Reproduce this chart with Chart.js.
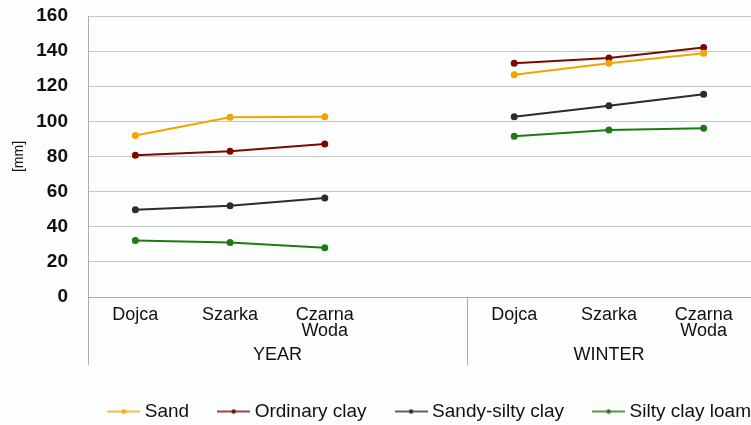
<!DOCTYPE html>
<html>
<head>
<meta charset="utf-8">
<script src="https://cdn.jsdelivr.net/npm/chart.js@4"></script>
<style>
  html, body { margin: 0; padding: 0; background: #fcfdfd; }
  #wrap { width: 751px; height: 425px; }
</style>
</head>
<body>
<div id="wrap"><canvas id="myChart" width="751" height="425"></canvas></div>
<script>
// Categories (index 3 is the empty slot that separates the two groups)
var categories = ['Dojca', 'Szarka', ['Czarna', 'Woda'], '', 'Dojca', 'Szarka', ['Czarna', 'Woda']];
var groupLabels = ['YEAR', 'WINTER'];
var groupSizes = [4, 3];
var yTicks = [0, 20, 40, 60, 80, 100, 120, 140, 160];

// Series values [mm]
var sand = [91.9, 102.3, 102.7, null, 126.6, 133.1, 138.8];
var ordinaryClay = [80.7, 83.0, 87.1, null, 133.1, 136.1, 142.0];
var sandySiltyClay = [49.7, 52.0, 56.4, null, 102.7, 108.9, 115.4];
var siltyClayLoam = [32.1, 31.1, 28.1, null, 91.5, 95.1, 96.1];

var FONT = "'Liberation Sans', Arial, sans-serif";
var GRID = '#c3c7cb';
var AXIS = '#a9adb1';

// little "line with a dot" marker for the legend
function legendMarker(color) {
  var c = document.createElement('canvas');
  c.width = 33; c.height = 8;
  var g = c.getContext('2d');
  g.strokeStyle = color; g.lineWidth = 1.6;
  g.beginPath(); g.moveTo(0, 4); g.lineTo(33, 4); g.stroke();
  g.fillStyle = color;
  g.beginPath(); g.arc(16.5, 4, 2.2, 0, Math.PI * 2); g.fill();
  return c;
}

function series(label, data, color) {
  return {
    label: label,
    data: data,
    borderColor: color,
    backgroundColor: color,
    borderWidth: 2,
    pointRadius: 2.5,
    pointHoverRadius: 2.5,
    spanGaps: false,
    tension: 0,
    marker: legendMarker(color)
  };
}

// background, legend shift, group labels / separators under the category axis
var groupPlugin = {
  id: 'groups',
  beforeDraw: function (chart) {
    var c = chart.ctx;
    c.save();
    c.fillStyle = '#fcfdfd';
    c.fillRect(0, 0, chart.width, chart.height);
    c.restore();
  },
  afterLayout: function (chart) {
    // push the legend row flush to the right edge like the original
    chart.legend.right += chart.legend.options.labels.padding;
  },
  afterDraw: function (chart) {
    var x = chart.scales.x, c = chart.ctx;
    var step = x.getPixelForValue(1) - x.getPixelForValue(0);
    var start = 0;
    var top = chart.chartArea.bottom, bottom = top + 68;
    c.save();
    c.strokeStyle = AXIS;
    c.lineWidth = 1;
    c.beginPath();
    c.moveTo(x.left + 0.5, top); c.lineTo(x.left + 0.5, bottom);
    c.stroke();
    c.fillStyle = '#111';
    c.font = '18px ' + FONT;
    c.textAlign = 'center';
    c.textBaseline = 'middle';
    groupSizes.forEach(function (n, i) {
      var l = x.getPixelForValue(start) - step / 2;
      var r = x.getPixelForValue(start + n - 1) + step / 2;
      c.fillText(groupLabels[i], (l + r) / 2, bottom - 10);
      if (i > 0) {
        c.beginPath();
        c.moveTo(Math.round(l) + 0.5, top); c.lineTo(Math.round(l) + 0.5, bottom);
        c.stroke();
      }
      start += n;
    });
    c.restore();
  }
};

var ctx = document.getElementById('myChart').getContext('2d');
var myChart = new Chart(ctx, {
  type: 'line',
  data: {
    labels: categories,
    datasets: [
      series('Sand', sand, '#f0a500'),
      series('Ordinary clay', ordinaryClay, '#7a0a00'),
      series('Sandy-silty clay', sandySiltyClay, '#2a2c2e'),
      series('Silty clay loam', siltyClayLoam, '#1f7a12')
    ]
  },
  options: {
    responsive: false,
    animation: false,
    layout: { autoPadding: false, padding: { top: 16, right: 0, bottom: -6, left: 0 } },
    plugins: {
      tooltip: { enabled: false },
      legend: {
        position: 'bottom',
        align: 'end',
        labels: {
          usePointStyle: true,
          pointStyleWidth: 23,
          padding: 33,
          color: '#111',
          font: { family: FONT, size: 19 },
          generateLabels: function (chart) {
            var items = Chart.defaults.plugins.legend.labels.generateLabels(chart);
            items.forEach(function (it) {
              it.pointStyle = chart.data.datasets[it.datasetIndex].marker;
            });
            return items;
          }
        }
      }
    },
    scales: {
      x: {
        offset: true,
        grid: { display: false, drawTicks: false },
        border: { display: true, color: AXIS },
        ticks: {
          color: '#111',
          font: { family: FONT, size: 18, lineHeight: '16px' },
          padding: 10,
          maxRotation: 0,
          autoSkip: false
        },
        afterFit: function (s) { s.height = 72; s.paddingLeft = 0; s.paddingRight = 0; }
      },
      y: {
        min: 0,
        max: 160,
        afterBuildTicks: function (s) { s.ticks = yTicks.map(function (v) { return { value: v }; }); },
        grid: { color: GRID, drawTicks: false },
        border: { display: true, color: AXIS },
        ticks: {
          color: '#111',
          font: { family: FONT, size: 19, weight: 'bold' },
          padding: 20
        },
        title: {
          display: true,
          text: '[mm]',
          color: '#111',
          font: { family: FONT, size: 14 },
          padding: { top: 11, bottom: 0 }
        },
        afterFit: function (s) { s.width = 88; s.paddingTop = 0; s.paddingBottom = 0; }
      }
    }
  },
  plugins: [groupPlugin]
});
</script>
</body>
</html>
